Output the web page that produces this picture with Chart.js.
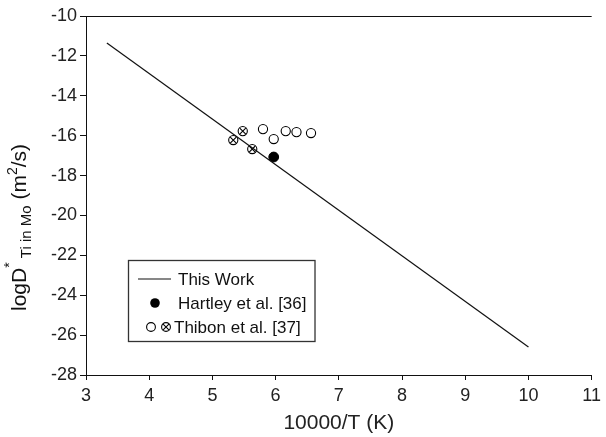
<!DOCTYPE html>
<html>
<head>
<meta charset="utf-8">
<script src="https://cdn.jsdelivr.net/npm/chart.js@4.4.1/dist/chart.umd.min.js"></script>
<style>
  html, body { margin: 0; padding: 0; background: #fff; }
  #wrap { width: 606px; height: 437px; position: relative; }
</style>
</head>
<body>
<div id="wrap"><canvas id="chart"></canvas></div>
<script>
// ── Data ────────────────────────────────────────────────────────────────────
const xTickVals = [3, 4, 5, 6, 7, 8, 9, 10, 11];
const yTickVals = [-28, -26, -24, -22, -20, -18, -16, -14, -12, -10];

// "This Work" fit line (end points)
const fitX = [3.33, 10];
const fitY = [-11.35, -26.6];

// Hartley et al. [36]
const hartleyX = [5.97];
const hartleyY = [-17.07];

// Thibon et al. [37] – open circles
const thibonOpenX = [5.80, 5.97, 6.16, 6.33, 6.56];
const thibonOpenY = [-15.67, -16.17, -15.77, -15.82, -15.87];

// Thibon et al. [37] – crossed circles
const thibonCrossX = [5.33, 5.48, 5.63];
const thibonCrossY = [-16.22, -15.77, -16.67];

const INK = '#111';
const FONT = "'Liberation Sans', Arial, sans-serif";
const R_OPEN = 4.6;
const NONE = 'rgba(0,0,0,0)';

const toPts = (xs, ys) => xs.map((x, i) => ({ x: x, y: ys[i] }));

// ── Custom drawing: top border, y title, legend box ─────────────────────────
function crossedAt(ctx, x, y, r) {
  ctx.beginPath(); ctx.arc(x, y, r, 0, Math.PI * 2); ctx.stroke();
  const d = r * 0.66;
  ctx.beginPath();
  ctx.moveTo(x - d, y - d); ctx.lineTo(x + d, y + d);
  ctx.moveTo(x + d, y - d); ctx.lineTo(x - d, y + d);
  ctx.stroke();
}

const extras = {
  id: 'extras',
  afterDraw(chart) {
    const ctx = chart.ctx;
    const a = chart.chartArea;
    ctx.save();

    // top border
    ctx.strokeStyle = INK; ctx.lineWidth = 1;
    ctx.beginPath(); ctx.moveTo(a.left, a.top + 0.5); ctx.lineTo(a.right, a.top + 0.5); ctx.stroke();

    // y axis title with sub/superscripts
    const parts = [
      { t: 'logD', size: 21, dy: 0 },
      { t: '*', size: 14, dy: -12 },
      { t: ' Ti in Mo', size: 15, dy: 5 },
      { t: ' (m', size: 21, dy: 0 },
      { t: '2', size: 14, dy: -9 },
      { t: '/s)', size: 21, dy: 0 }
    ];
    let total = 0;
    parts.forEach(p => { ctx.font = p.size + 'px ' + FONT; p.w = ctx.measureText(p.t).width; total += p.w; });
    ctx.translate(26, (a.top + a.bottom) / 2 + 32);
    ctx.rotate(-Math.PI / 2);
    ctx.fillStyle = INK; ctx.textBaseline = 'alphabetic'; ctx.textAlign = 'left';
    let px = -total / 2;
    parts.forEach(p => { ctx.font = p.size + 'px ' + FONT; ctx.fillText(p.t, px, p.dy); px += p.w; });
    ctx.setTransform(1, 0, 0, 1, 0, 0);

    // legend
    const bx = 128, by = 260, bh = 81, tx = 178;
    const rows = ['This Work', 'Hartley et al. [36]', 'Thibon et al. [37]'];
    const rowY = [279, 303, 327];
    ctx.font = '17px ' + FONT;
    const maxW = Math.max.apply(null, rows.map(r => ctx.measureText(r).width));
    const bw = tx + maxW + 8 - bx;
    ctx.fillStyle = '#fff'; ctx.fillRect(bx, by, bw, bh);
    ctx.strokeStyle = '#333'; ctx.lineWidth = 1.3;
    ctx.strokeRect(bx + 0.5, by + 0.5, bw, bh);

    ctx.strokeStyle = INK; ctx.lineWidth = 1.2;
    ctx.beginPath(); ctx.moveTo(138, rowY[0]); ctx.lineTo(171, rowY[0]); ctx.stroke();
    ctx.fillStyle = '#000';
    ctx.beginPath(); ctx.arc(155, rowY[1], 4.8, 0, Math.PI * 2); ctx.fill();
    ctx.strokeStyle = '#000'; ctx.lineWidth = 1.1;
    ctx.beginPath(); ctx.arc(151, rowY[2], 4.4, 0, Math.PI * 2); ctx.stroke();
    crossedAt(ctx, 166, rowY[2], 4.4);

    ctx.fillStyle = INK; ctx.textBaseline = 'middle';
    ctx.fillText(rows[0], tx, rowY[0] + 1);
    ctx.fillText(rows[1], tx, rowY[1] + 1);
    ctx.fillText(rows[2], 174, rowY[2] + 1);
    ctx.restore();
  }
};

// ── Chart ───────────────────────────────────────────────────────────────────
// note: dataset 0 is painted last (on top)
new Chart(document.getElementById('chart'), {
  type: 'scatter',
  data: {
    datasets: [
      { label: 'This Work', data: toPts(fitX, fitY), showLine: true, borderColor: INK, borderWidth: 1.2, pointRadius: 0, fill: false },
      { label: 'cross', data: toPts(thibonCrossX, thibonCrossY), pointStyle: 'crossRot', pointRadius: R_OPEN * 0.66 * Math.SQRT2, backgroundColor: NONE, borderColor: '#000', pointBorderColor: '#000', borderWidth: 1.1, pointBorderWidth: 1.1 },
      { label: 'Thibon et al. [37] crossed', data: toPts(thibonCrossX, thibonCrossY), pointStyle: 'circle', pointRadius: R_OPEN, backgroundColor: NONE, borderColor: '#000', borderWidth: 1.1 },
      { label: 'Thibon et al. [37]', data: toPts(thibonOpenX, thibonOpenY), pointStyle: 'circle', pointRadius: R_OPEN, backgroundColor: NONE, borderColor: '#000', borderWidth: 1.1 },
      { label: 'Hartley et al. [36]', data: toPts(hartleyX, hartleyY), pointStyle: 'circle', pointRadius: 4.9, backgroundColor: '#000', borderColor: '#000', borderWidth: 1 }
    ]
  },
  options: {
    responsive: true,
    maintainAspectRatio: false,
    animation: false,
    layout: { padding: { top: 16, right: 8, left: 0, bottom: 0 } },
    plugins: { legend: { display: false }, tooltip: { enabled: false } },
    scales: {
      x: {
        type: 'linear', position: 'bottom', min: 3, max: 11,
        afterBuildTicks: s => { s.ticks = xTickVals.map(v => ({ value: v })); },
        afterFit: s => { s.height = 62; },
        grid: { drawOnChartArea: false, tickLength: 5, color: INK },
        border: { color: INK, width: 1 },
        ticks: { color: '#222', font: { family: FONT, size: 18 }, padding: 5, maxRotation: 0, autoSkip: false },
        title: { display: true, text: '10000/T (K)', color: '#222', font: { family: FONT, size: 21 }, padding: { top: 2, bottom: 1 } }
      },
      y: {
        type: 'linear', min: -28, max: -10,
        afterBuildTicks: s => { s.ticks = yTickVals.map(v => ({ value: v })); },
        afterFit: s => { s.width = 86; },
        grid: { drawOnChartArea: false, tickLength: 6, color: INK },
        border: { color: INK, width: 1 },
        ticks: { color: '#222', font: { family: FONT, size: 18 }, padding: 3, autoSkip: false }
      }
    }
  },
  plugins: [extras]
});
</script>
</body>
</html>
